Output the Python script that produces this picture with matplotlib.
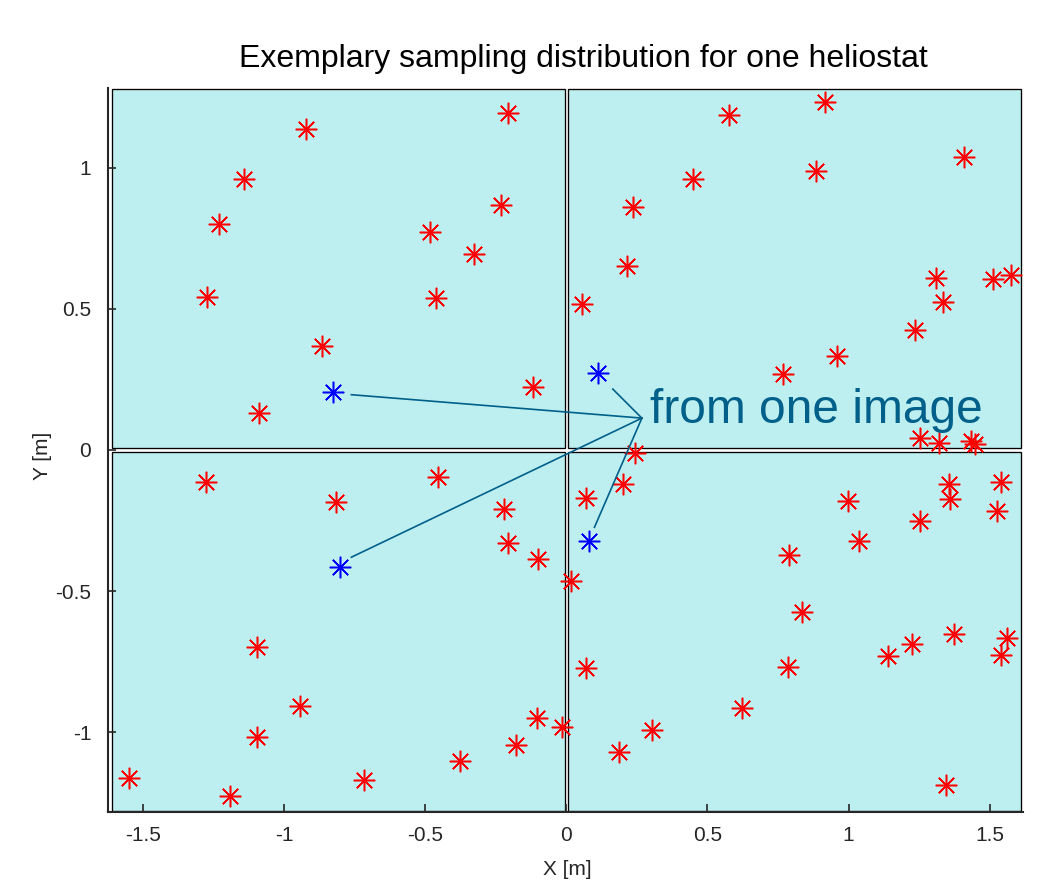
import matplotlib
matplotlib.use("Agg")
import matplotlib.pyplot as plt
from matplotlib.patches import Rectangle

plt.rcParams['font.family'] = ['Liberation Sans', 'DejaVu Sans']
plt.rcParams['axes.unicode_minus'] = False

# red sample points (x, y in metres)
red_x = [-0.206, -0.922, -1.141, -1.230, -0.230, -0.482, -0.328, -1.271, -0.462, -0.866, -0.119, -1.089,
         0.577, 0.918, 1.408, 0.886, 0.450, 0.237, 0.214, 0.057, 1.311, 1.513, 1.576, 1.335, 1.237, 0.959, 0.769,
         1.253, 1.322, 1.433, 1.448,
         -1.275, -0.454, -0.814, -0.219, -0.206, -0.100, -1.095, -0.943, -1.095, -0.102, -0.015, -0.178, -0.377,
         -0.716, -1.550, -1.191,
         0.245, 0.201, 0.071, 0.017, 0.069, 0.186, 0.305, 0.624, 0.789, 0.836, 0.786, 0.997, 1.038, 1.254,
         1.357, 1.360, 1.541, 1.525, 1.139, 1.226, 1.375, 1.563, 1.540, 1.344]
red_y = [1.196, 1.138, 0.959, 0.801, 0.869, 0.773, 0.693, 0.543, 0.539, 0.368, 0.223, 0.131,
         1.188, 1.235, 1.039, 0.989, 0.959, 0.861, 0.651, 0.517, 0.608, 0.605, 0.621, 0.523, 0.426, 0.332, 0.269,
         0.044, 0.026, 0.032, 0.020,
         -0.112, -0.097, -0.183, -0.210, -0.328, -0.387, -0.697, -0.907, -1.018, -0.950, -0.982, -1.046, -1.103,
         -1.169, -1.162, -1.228,
         -0.012, -0.120, -0.169, -0.464, -0.773, -1.071, -0.993, -0.915, -0.371, -0.575, -0.768, -0.181, -0.321,
         -0.250, -0.120, -0.172, -0.115, -0.217, -0.730, -0.686, -0.653, -0.668, -0.726, -1.189]

# blue points: samples from one image
blue_x = [-0.825, 0.112, -0.800, 0.082]
blue_y = [0.204, 0.273, -0.413, -0.321]

# annotation line ends (near each blue point) and common anchor
line_end_x = [-0.761, 0.165, -0.761, 0.100]
line_end_y = [0.196, 0.216, -0.380, -0.274]
anchor = (0.268, 0.113)
annot_text = "from one image"
title_text = "Exemplary sampling distribution for one heliostat"

# facet layout: 2x2 facets
facet_w = 1.604
facet_h = 1.275
gap = 0.006

fig = plt.figure(figsize=(10.56, 8.94), dpi=100)
ax = fig.add_axes([108/1056, 1 - 812/894, (1023-108)/1056, (812-88)/894])

cyan = '#BEEFF0'
for sx in (-1, 1):
    for sy in (-1, 1):
        x0 = gap if sx > 0 else -gap - facet_w
        y0 = gap if sy > 0 else -gap - facet_h
        ax.add_patch(Rectangle((x0, y0), facet_w, facet_h, facecolor=cyan,
                               edgecolor='black', linewidth=0.95, zorder=1))

ax.plot(red_x, red_y, linestyle='none', marker=(8, 2, 0), markersize=15.5,
        markeredgewidth=1.1, color='#FF0000', zorder=3)
ax.plot(blue_x, blue_y, linestyle='none', marker=(8, 2, 0), markersize=15.5,
        markeredgewidth=1.1, color='#0000FF', zorder=3)

teal = '#00608A'
for ex, ey in zip(line_end_x, line_end_y):
    ax.plot([anchor[0], ex], [anchor[1], ey], color=teal, linewidth=1.2, zorder=4)
ax.text(0.297, 0.096, annot_text, color=teal, fontsize=34.5, ha='left', va='baseline', zorder=5)

ax.set_xlim(-1.623, 1.618)
ax.set_ylim(-1.283, 1.283)
ax.set_xticks([-1.5, -1, -0.5, 0, 0.5, 1, 1.5])
ax.set_xticklabels(['-1.5', '-1', '-0.5', '0', '0.5', '1', '1.5'])
ax.set_yticks([-1, -0.5, 0, 0.5, 1])
ax.set_yticklabels(['-1', '-0.5', '0', '0.5', '1'])
ax.tick_params(direction='in', length=6, width=1.2, labelsize=15, colors='#262626')
ax.tick_params(axis='x', pad=10)
ax.tick_params(axis='y', pad=12)
ax.spines['top'].set_visible(False)
ax.spines['right'].set_visible(False)
for s in ('left', 'bottom'):
    ax.spines[s].set_linewidth(1.5)
    ax.spines[s].set_color('#262626')
ax.set_xlabel('X [m]', fontsize=15, color='#262626')
ax.set_ylabel('Y [m]', fontsize=15, color='#262626')
ax.xaxis.set_label_coords((567-108)/915, (812-860)/724)
ax.yaxis.set_label_coords((52-108)/915, (812-456)/724)
fig.text(583/1056, 1 - 67/894, title_text, fontsize=23, color='black',
         ha='center', va='baseline')

fig.savefig('out.png', dpi=100)
